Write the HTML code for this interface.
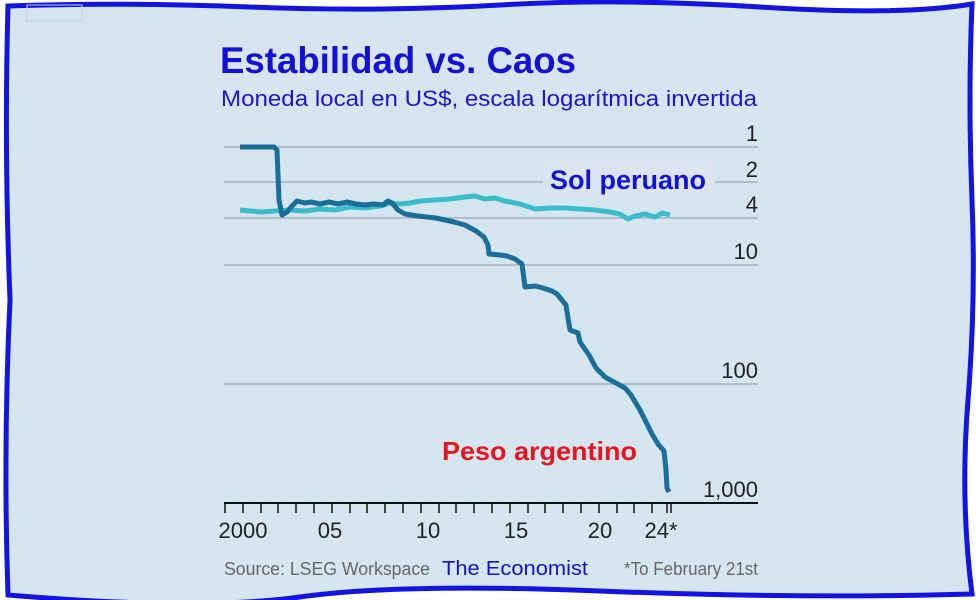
<!DOCTYPE html>
<html><head><meta charset="utf-8"><style>
html,body{margin:0;padding:0;width:980px;height:600px;overflow:hidden;background:#fff}
svg{display:block}
text{font-family:"Liberation Sans",sans-serif}
</style></head><body>
<svg width="980" height="600" viewBox="0 0 980 600">
<path d="M8,6 Q120,2 250,7 T500,5 T760,7 T972,4 Q968,100 972,200 T968,400 T972,594 Q800,599 600,591 T300,597 T8,595 Q3,450 10,300 Q4,150 8,6Z" fill="#d6e6f1" stroke="#1414e0" stroke-width="5"/>
<rect x="27" y="5" width="55" height="16" fill="none" stroke="#c8cfd6" stroke-width="1"/>
<rect x="212" y="28" width="560" height="92" fill="#d9e4f2"/>
<text x="220" y="73" font-size="37" font-weight="bold" fill="#1212d6" textLength="356" lengthAdjust="spacingAndGlyphs">Estabilidad vs. Caos</text>
<text x="221" y="106" font-size="22" fill="#1818c8" textLength="536" lengthAdjust="spacingAndGlyphs">Moneda local en US$, escala logarítmica invertida</text>
<g stroke="#a7b2ba" stroke-width="1.5">
<line x1="224" y1="147" x2="758" y2="147"/>
<line x1="224" y1="182" x2="758" y2="182"/>
<line x1="224" y1="218" x2="758" y2="218"/>
<line x1="224" y1="265" x2="758" y2="265"/>
<line x1="224" y1="384" x2="758" y2="384"/>
</g>
<g font-size="22" fill="#222" text-anchor="end">
<text x="758" y="141">1</text><text x="758" y="177">2</text><text x="758" y="212">4</text>
<text x="758" y="259">10</text><text x="758" y="378">100</text><text x="758" y="497">1,000</text>
</g>
<rect x="543" y="160" width="172" height="36" fill="#dce4f2"/>
<text x="550" y="189" font-size="27" font-weight="bold" fill="#1212d6" textLength="156" lengthAdjust="spacingAndGlyphs">Sol peruano</text>
<polyline fill="none" stroke="#3bbccc" stroke-width="5" stroke-linejoin="round" points="240,210 250,211 262,212 275,211 290,210 305,211 320,209 335,210 350,207 365,208 380,206 390,203 400,204 410,203 420,201 435,200 450,199 465,197 475,196 485,199 495,198 505,201 520,204 535,209 550,208 565,208 580,209 595,210 610,212 620,214 628,219 635,216 645,214 655,217 662,213 670,215"/>
<polyline fill="none" stroke="#1a6e9a" stroke-width="5" stroke-linejoin="round" points="240,147 274,147 277,150 279,200 282,215 287,212 292,206 297,201 305,203 311,202 320,204 329,202 338,204 347,202 356,204 365,205 374,204 383,205 388,201 392,203 398,210 405,214 418,216 436,218 454,222 465,225 476,231 484,237 488,245 489,254 500,255 507,256 515,259 522,264 525,287 535,286 543,288 552,291 557,294 566,305 568,318 570,330 578,333 580,342 589,355 596,368 605,377 614,382 625,388 631,395 640,410 646,422 652,434 658,444 664,451 666,470 667,488 669,492"/>
<text x="442" y="460" font-size="26" font-weight="bold" fill="#e8141c" textLength="195" lengthAdjust="spacingAndGlyphs">Peso argentino</text>
<line x1="224" y1="503" x2="758" y2="503" stroke="#111" stroke-width="2"/>
<g stroke="#111" stroke-width="1.5">
<line x1="225" y1="503" x2="225" y2="513"/><line x1="243" y1="503" x2="243" y2="513"/><line x1="261" y1="503" x2="261" y2="513"/><line x1="278" y1="503" x2="278" y2="513"/><line x1="296" y1="503" x2="296" y2="513"/><line x1="314" y1="503" x2="314" y2="513"/><line x1="332" y1="503" x2="332" y2="513"/><line x1="350" y1="503" x2="350" y2="513"/><line x1="367" y1="503" x2="367" y2="513"/><line x1="385" y1="503" x2="385" y2="513"/><line x1="403" y1="503" x2="403" y2="513"/><line x1="421" y1="503" x2="421" y2="513"/><line x1="439" y1="503" x2="439" y2="513"/><line x1="456" y1="503" x2="456" y2="513"/><line x1="474" y1="503" x2="474" y2="513"/><line x1="492" y1="503" x2="492" y2="513"/><line x1="510" y1="503" x2="510" y2="513"/><line x1="528" y1="503" x2="528" y2="513"/><line x1="545" y1="503" x2="545" y2="513"/><line x1="563" y1="503" x2="563" y2="513"/><line x1="581" y1="503" x2="581" y2="513"/><line x1="599" y1="503" x2="599" y2="513"/><line x1="617" y1="503" x2="617" y2="513"/><line x1="634" y1="503" x2="634" y2="513"/><line x1="652" y1="503" x2="652" y2="513"/><line x1="667" y1="503" x2="667" y2="513"/><line x1="671" y1="503" x2="671" y2="513"/>
</g>
<g font-size="22" fill="#222" text-anchor="middle">
<text x="243" y="538">2000</text><text x="330" y="538">05</text><text x="428" y="538">10</text><text x="516" y="538">15</text><text x="600" y="538">20</text><text x="661" y="538">24*</text>
</g>
<text x="224" y="575" font-size="18" fill="#666" textLength="206" lengthAdjust="spacingAndGlyphs">Source: LSEG Workspace</text>
<text x="442" y="575" font-size="20" fill="#1414c8" textLength="146" lengthAdjust="spacingAndGlyphs">The Economist</text>
<text x="624" y="575" font-size="18" fill="#666" textLength="134" lengthAdjust="spacingAndGlyphs">*To February 21st</text>
</svg>
</body></html>
